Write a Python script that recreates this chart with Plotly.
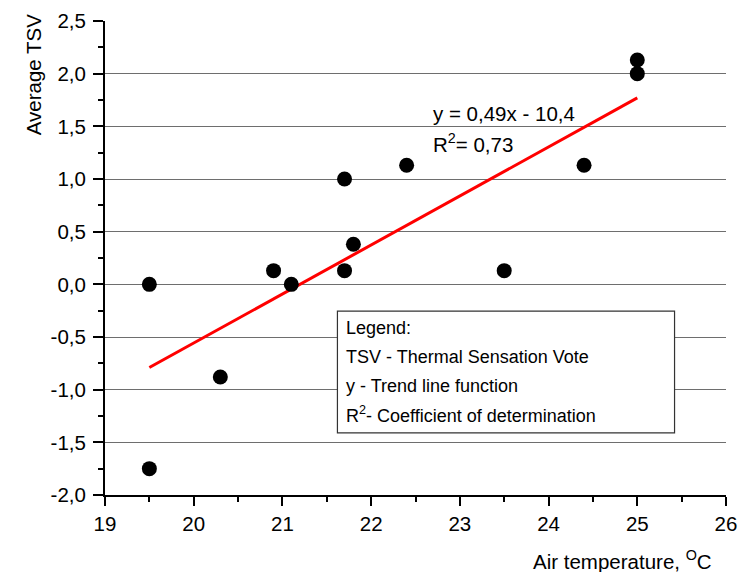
import plotly.graph_objects as go

# ---- data ----
air_temp = [19.5, 19.5, 20.3, 20.9, 21.1, 21.7, 21.7, 21.8, 22.4, 23.5, 24.4, 25.0, 25.0]
avg_tsv = [0.0, -1.75, -0.88, 0.13, 0.0, 1.0, 0.13, 0.38, 1.13, 0.13, 1.13, 2.0, 2.13]

trend_x = [19.5, 25.0]
trend_y = [-0.79, 1.77]

x_tickvals = [19, 20, 21, 22, 23, 24, 25, 26]
x_ticktext = ["19", "20", "21", "22", "23", "24", "25", "26"]
y_tickvals = [-2.0, -1.5, -1.0, -0.5, 0.0, 0.5, 1.0, 1.5, 2.0, 2.5]
y_ticktext = ["-2,0", "-1,5", "-1,0", "-0,5", "0,0", "0,5", "1,0", "1,5", "2,0", "2,5"]

equation_text = "y = 0,49x - 10,4"
r2_text = "R<sup>2</sup>= 0,73"
legend_lines = ["Legend:", "TSV - Thermal Sensation Vote", "y - Trend line function",
                "R<sup>2</sup>- Coefficient of determination"]

FONT = "Liberation Sans, Arial, sans-serif"

fig = go.Figure()
fig.add_trace(go.Scatter(x=trend_x, y=trend_y, mode="lines",
                         line=dict(color="#ff0000", width=3), showlegend=False))
fig.add_trace(go.Scatter(x=air_temp, y=avg_tsv, mode="markers",
                         marker=dict(color="black", size=15), showlegend=False, cliponaxis=False))

# legend box
fig.add_shape(type="rect", xref="x", yref="y", x0=21.62, x1=25.42, y0=-1.41, y1=-0.254,
              line=dict(color="#333", width=1.2), fillcolor="white", layer="above")

ann = []
ann.append(dict(x=22.67, y=1.624, xref="x", yref="y", text=equation_text, showarrow=False,
                xanchor="left", yanchor="middle", font=dict(size=20.5, color="black", family=FONT)))
ann.append(dict(x=22.67, y=1.34, xref="x", yref="y", text=r2_text, showarrow=False,
                xanchor="left", yanchor="middle", font=dict(size=20.5, color="black", family=FONT)))
legend_ys = [-0.416, -0.691, -0.966, -1.232]
for txt, yy in zip(legend_lines, legend_ys):
    ann.append(dict(x=21.69, y=yy, xref="x", yref="y", text=txt, showarrow=False,
                    xanchor="left", yanchor="middle", font=dict(size=18, color="black", family=FONT)))
ann.append(dict(x=-0.116, y=0.8876, xref="paper", yref="paper", text="Average TSV", showarrow=False,
                textangle=-90, xanchor="center", yanchor="middle",
                font=dict(size=20.5, color="black", family=FONT)))
ann.append(dict(x=0.834, y=-0.137, xref="paper", yref="paper", text="Air temperature, <sup>O</sup>C",
                showarrow=False, xanchor="center", yanchor="middle",
                font=dict(size=20.5, color="black", family=FONT)))

fig.update_layout(
    width=738, height=572,
    margin=dict(l=105, r=12, t=21, b=77),
    plot_bgcolor="white", paper_bgcolor="white",
    font=dict(family=FONT, color="black", size=18),
    annotations=ann,
    xaxis=dict(range=[19, 26], tickmode="array", tickvals=x_tickvals, ticktext=x_ticktext,
               automargin=False, ticklabeloverflow="allow",
               showgrid=False, zeroline=False, showline=True, linecolor="black", linewidth=2,
               ticks="outside", ticklen=9, tickwidth=2, tickcolor="black",
               tickfont=dict(size=20.5, family=FONT, color="black"),
               minor=dict(ticks="outside", ticklen=5, tickwidth=2, tickcolor="black",
                          tick0=19, dtick=0.5, showgrid=False)),
    yaxis=dict(range=[-2.0, 2.5], tickmode="array", tickvals=y_tickvals, ticktext=y_ticktext,
               automargin=False, ticklabeloverflow="allow", ticklabelstandoff=3,
               showgrid=True, gridcolor="#6e6e6e", gridwidth=1, zeroline=False,
               showline=True, linecolor="black", linewidth=2,
               ticks="outside", ticklen=10, tickwidth=2, tickcolor="black",
               tickfont=dict(size=20.5, family=FONT, color="black"),
               minor=dict(ticks="outside", ticklen=5, tickwidth=2, tickcolor="black",
                          tick0=-2.0, dtick=0.25, showgrid=False)),
)

fig.write_html("out.html")
